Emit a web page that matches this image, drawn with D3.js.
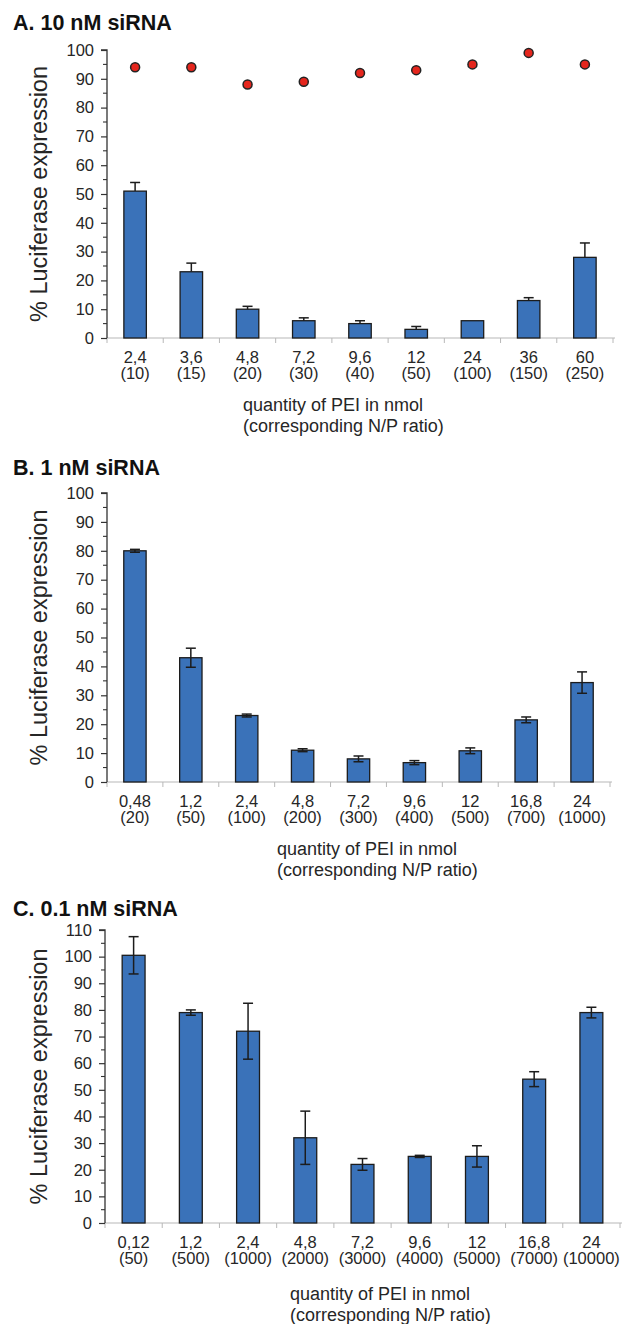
<!DOCTYPE html>
<html>
<head>
<meta charset="utf-8">
<script src="https://cdn.jsdelivr.net/npm/d3@7"></script>
<style>
  html, body { margin: 0; padding: 0; background: #fff; }
  svg { display: block; font-family: "Liberation Sans", Arial, sans-serif; }
</style>
</head>
<body>
<svg id="chart" width="624" height="1324"></svg>
<script>
// ---- Panel A: 10 nM siRNA ----
const qtyA = ["2,4", "3,6", "4,8", "7,2", "9,6", "12", "24", "36", "60"];
const ratioA = ["(10)", "(15)", "(20)", "(30)", "(40)", "(50)", "(100)", "(150)", "(250)"];
const expressionA = [51, 23, 10, 6, 5, 3, 6, 13, 28];
const errorA = [3, 3, 1, 1, 1, 1, 0, 1, 5];
const viabilityA = [94, 94, 88, 89, 92, 93, 95, 99, 95];
const yTicksA = [0, 10, 20, 30, 40, 50, 60, 70, 80, 90, 100];

// ---- Panel B: 1 nM siRNA ----
const qtyB = ["0,48", "1,2", "2,4", "4,8", "7,2", "9,6", "12", "16,8", "24"];
const ratioB = ["(20)", "(50)", "(100)", "(200)", "(300)", "(400)", "(500)", "(700)", "(1000)"];
const expressionB = [80, 43, 23, 11, 8, 6.7, 10.8, 21.5, 34.4];
const errorB = [0.5, 3.3, 0.5, 0.5, 1, 0.7, 1, 1, 3.7];
const yTicksB = [0, 10, 20, 30, 40, 50, 60, 70, 80, 90, 100];

// ---- Panel C: 0.1 nM siRNA ----
const qtyC = ["0,12", "1,2", "2,4", "4,8", "7,2", "9,6", "12", "16,8", "24"];
const ratioC = ["(50)", "(500)", "(1000)", "(2000)", "(3000)", "(4000)", "(5000)", "(7000)", "(10000)"];
const expressionC = [100.5, 79, 72, 32, 22, 25, 25, 54, 79];
const errorC = [7, 1, 10.5, 10, 2.2, 0.4, 4, 2.8, 2];
const yTicksC = [0, 10, 20, 30, 40, 50, 60, 70, 80, 90, 100, 110];

const titles = ["A. 10 nM siRNA", "B. 1 nM siRNA", "C. 0.1 nM siRNA"];
const yTitle = "% Luciferase expression";
const xTitle = ["quantity of PEI in nmol", "(corresponding N/P ratio)"];

const svg = d3.select("#chart");
const BAR = "#3a72b9", INK = "#1c1c1c", TXT = "#262626";

function panel(o) {
  const g = svg.append("g");
  const x = d3.scaleBand().domain(d3.range(o.qty.length)).range([o.x0, o.x1]);
  const yMax = d3.max(o.yTicks);
  const y = d3.scaleLinear().domain([0, yMax]).range([o.yBase, o.yTop]);
  const bw = x.bandwidth() * 0.4;

  // panel title
  g.append("text").attr("x", 13).attr("y", o.titleY)
    .attr("font-size", 21.5).attr("font-weight", "bold").attr("fill", "#111")
    .text(o.title);

  // y axis title
  g.append("text")
    .attr("transform", `translate(${47},${(o.yBase + o.yTop) / 2}) rotate(-90)`)
    .attr("text-anchor", "middle").attr("font-size", 23.5).attr("fill", TXT)
    .text(yTitle);

  // x axis (light grey, ticks on category boundaries)
  g.append("line").attr("x1", o.x0).attr("x2", o.x1 + 2)
    .attr("y1", o.yBase).attr("y2", o.yBase)
    .attr("stroke", "#b8b8b8").attr("stroke-width", 1.2);
  const bounds = d3.range(o.qty.length + 1).map(i => i < o.qty.length ? x(i) : o.x1);
  g.selectAll(".xt").data(bounds).join("line")
    .attr("x1", d => d).attr("x2", d => d)
    .attr("y1", o.yBase).attr("y2", o.yBase + 5)
    .attr("stroke", "#b8b8b8").attr("stroke-width", 1);

  // bars
  g.selectAll(".bar").data(o.values).join("rect")
    .attr("x", (d, i) => x(i) + x.bandwidth() / 2 - bw / 2)
    .attr("width", bw)
    .attr("y", d => y(d))
    .attr("height", d => y(0) - y(d))
    .attr("fill", BAR).attr("stroke", INK).attr("stroke-width", 1.3);

  // error bars
  const cap = 5;
  o.values.forEach((v, i) => {
    const e = o.errors[i];
    if (!e) return;
    const cx = x(i) + x.bandwidth() / 2;
    const lo = o.upOnly ? v : v - e;
    const eg = g.append("g").attr("stroke", INK).attr("stroke-width", 1.5);
    eg.append("line").attr("x1", cx).attr("x2", cx).attr("y1", y(lo)).attr("y2", y(v + e));
    eg.append("line").attr("x1", cx - cap).attr("x2", cx + cap).attr("y1", y(v + e)).attr("y2", y(v + e));
    if (!o.upOnly) {
      eg.append("line").attr("x1", cx - cap).attr("x2", cx + cap).attr("y1", y(v - e)).attr("y2", y(v - e));
    }
  });

  // y axis with major ticks every 10 and minor ticks at 5
  const yAxis = d3.axisLeft(y).tickValues(o.yTicks).tickSize(6).tickPadding(7);
  const ya = g.append("g").attr("transform", `translate(${o.x0},0)`).call(yAxis);
  ya.select(".domain").attr("stroke", "#333").attr("stroke-width", 1.3).attr("d", `M-6,${y(yMax)}H0V${y(0)}`);
  ya.selectAll(".tick line").attr("stroke", "#333").attr("stroke-width", 1.2);
  ya.selectAll(".tick text").attr("font-size", 16.5).attr("fill", TXT)
    .attr("font-family", "Liberation Sans, Arial, sans-serif");
  const minor = d3.range(5, yMax, 10);
  g.selectAll(".ymin").data(minor).join("line")
    .attr("x1", o.x0 - 4).attr("x2", o.x0)
    .attr("y1", d => y(d)).attr("y2", d => y(d))
    .attr("stroke", "#333").attr("stroke-width", 1.1);

  // x tick labels (two lines)
  o.qty.forEach((q, i) => {
    const cx = x(i) + x.bandwidth() / 2;
    const t = g.append("text").attr("text-anchor", "middle").attr("font-size", 16.5).attr("fill", TXT);
    t.append("tspan").attr("x", cx).attr("y", o.yBase + 25).text(q);
    t.append("tspan").attr("x", cx).attr("y", o.yBase + 41).text(o.ratios[i]);
  });

  // x axis title, left aligned
  const xt = g.append("text").attr("font-size", 18).attr("fill", TXT);
  xTitle.forEach((line, k) => {
    xt.append("tspan").attr("x", o.xTitleX).attr("y", o.xTitleY + k * 21).text(line);
  });

  // viability points
  if (o.points) {
    g.selectAll(".pt").data(o.points).join("circle")
      .attr("cx", (d, i) => x(i) + x.bandwidth() / 2)
      .attr("cy", d => y(d))
      .attr("r", 4.5)
      .attr("fill", "#e5261d").attr("stroke", "#222").attr("stroke-width", 1.5);
  }
}

panel({
  title: titles[0], titleY: 30,
  qty: qtyA, ratios: ratioA, values: expressionA, errors: errorA, points: viabilityA,
  yTicks: yTicksA, upOnly: true,
  x0: 107, x1: 613, yBase: 338, yTop: 50,
  xTitleX: 243, xTitleY: 411
});

panel({
  title: titles[1], titleY: 475,
  qty: qtyB, ratios: ratioB, values: expressionB, errors: errorB,
  yTicks: yTicksB, upOnly: false,
  x0: 107, x1: 610, yBase: 782, yTop: 493,
  xTitleX: 277, xTitleY: 855
});

panel({
  title: titles[2], titleY: 916,
  qty: qtyC, ratios: ratioC, values: expressionC, errors: errorC,
  yTicks: yTicksC, upOnly: false,
  x0: 105, x1: 620, yBase: 1223, yTop: 930,
  xTitleX: 290, xTitleY: 1300
});
</script>
</body>
</html>
